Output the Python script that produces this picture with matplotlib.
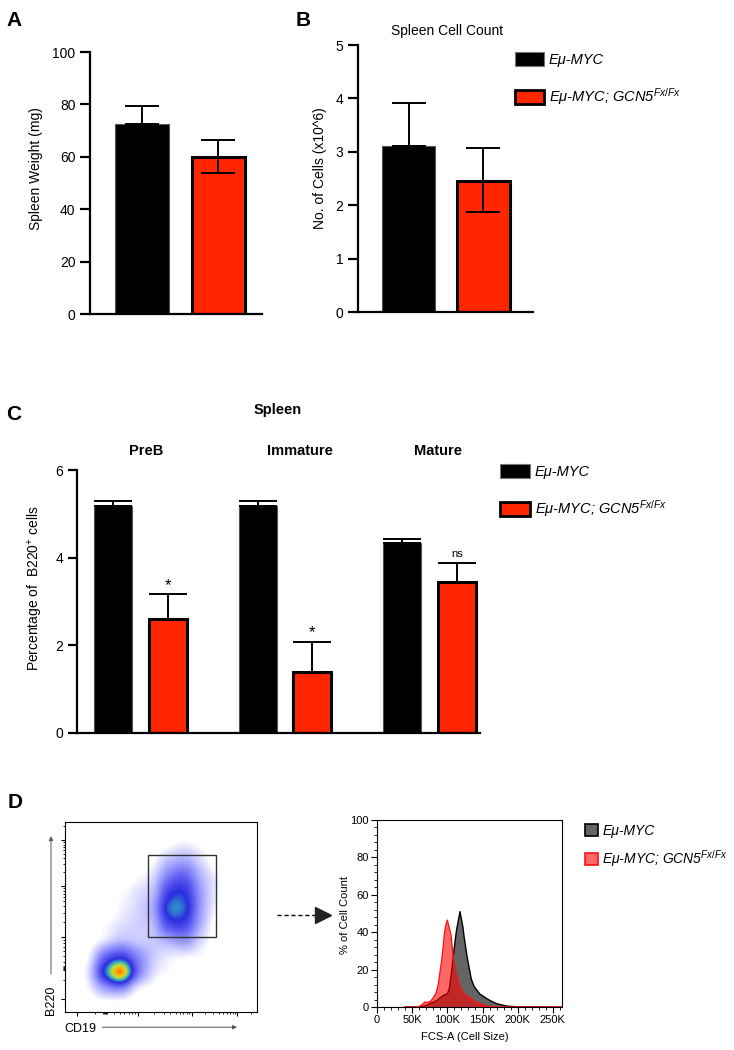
import numpy as np
import matplotlib
matplotlib.use('Agg')
import matplotlib.pyplot as plt
from matplotlib.patches import Patch, Rectangle
from matplotlib.colors import LinearSegmentedColormap
from matplotlib.lines import Line2D

plt.rcParams['font.family'] = ['Liberation Sans', 'DejaVu Sans']
plt.rcParams['mathtext.fontset'] = 'custom'
plt.rcParams['mathtext.rm'] = 'Liberation Sans'
plt.rcParams['mathtext.it'] = 'Liberation Sans:italic'

# ---- data ----
groups = ['Eμ-MYC', 'Eμ-MYC; GCN5$^{Fx/Fx}$']

# A: spleen weight (mg)
weight_mean = [72.5, 60.0]
weight_lo = [0.0, 6.0]
weight_hi = [7.0, 6.5]

# B: spleen cell count (x10^6)
count_mean = [3.1, 2.45]
count_lo = [0.0, 0.58]
count_hi = [0.82, 0.62]

# C: percentage of B220+ cells
subsets = ['PreB', 'Immature', 'Mature']
pct_myc = [5.17, 5.17, 4.33]
pct_myc_err = [0.13, 0.13, 0.09]
pct_gcn5 = [2.6, 1.4, 3.45]
pct_gcn5_err = [0.57, 0.68, 0.43]
sig_labels = ['*', '*', 'ns']

# D: FSC histograms (x in K, y in % of max)
fsc_x = [40, 55, 60, 65, 68, 72, 76, 80, 84, 87, 90, 92, 94, 96, 98, 100, 103,
         105, 107, 109, 111, 113, 114, 116, 118, 120, 122, 124, 126, 128, 130,
         134, 138, 142, 146, 150, 156, 163, 170, 184, 200, 262]
fsc_myc = [0, 0, 0, 0.3, 0.6, 1.2, 2, 2.5, 3.2, 4, 5, 5.5, 6, 6.5, 6.8, 7, 10,
           16, 22, 29, 35, 41, 43, 47, 51, 47, 43, 37, 32, 27, 23,
           15, 11, 9, 7, 6, 4.5, 3, 1.8, 0.5, 0.1, 0]
fsc_gcn5 = [0, 0, 0.3, 1.5, 2.7, 2.5, 3, 5, 7.5, 12, 20, 25, 32, 40, 44, 46.5, 42,
            39, 32, 25, 19.5, 17, 16, 13.5, 11, 9.5, 8, 7, 6.5, 6, 5.3,
            4.5, 3.5, 2.5, 1.8, 1.2, 0.5, 0.2, 0, 0, 0, 0]

# D: CD19 / B220 density (rows top -> bottom)
density = np.array([
    [0, 0, 0, 0, 0, 0, 0, 0, 0, 0, 0, 0],
    [0, 0, 0, 0, 0, 0, 0.2, 0.4, 0.2, 0, 0, 0],
    [0, 0, 0, 0, 0, 0.2, 1.0, 1.3, 0.6, 0, 0, 0],
    [0, 0, 0, 0, 0.2, 0.6, 2.0, 2.4, 1.1, 0.3, 0, 0],
    [0, 0, 0, 0.2, 0.5, 1.0, 3.0, 3.2, 1.4, 0.3, 0, 0],
    [0, 0, 0, 0.3, 0.6, 1.3, 3.6, 3.5, 1.4, 0.2, 0, 0],
    [0, 0, 0.2, 0.5, 0.7, 1.0, 2.7, 2.8, 1.1, 0, 0, 0],
    [0, 0, 0.5, 1.0, 0.8, 0.8, 1.2, 1.5, 0.6, 0, 0, 0],
    [0, 0.3, 2.2, 3.0, 1.8, 0.8, 0.4, 0.3, 0.2, 0, 0, 0],
    [0, 0.6, 3.5, 5.6, 2.2, 0.6, 0.2, 0.1, 0.2, 0, 0, 0],
    [0, 0.3, 1.4, 1.8, 0.5, 0.1, 0, 0, 0, 0, 0, 0],
    [0, 0, 0, 0, 0, 0, 0, 0, 0, 0, 0, 0],
])
gate = (0.43, 0.395, 0.355, 0.43)  # x, y, width, height in axes units

RED = '#ff2600'
W, H = 734, 1050


def box(l, t, r, b):
    return [l / W, 1 - b / H, (r - l) / W, (b - t) / H]


def prism_axes(ax, lw=1.6, tl=7):
    for s in ['top', 'right']:
        ax.spines[s].set_visible(False)
    for s in ['left', 'bottom']:
        ax.spines[s].set_linewidth(lw)
    ax.tick_params(axis='y', length=tl, width=lw, labelsize=10)
    ax.tick_params(axis='x', length=0, labelbottom=False)


fig = plt.figure(figsize=(7.34, 10.5), dpi=100)

# ---- A ----
axA = fig.add_axes(box(90, 52, 262, 314))
xA = np.arange(2)
axA.bar(xA, weight_mean, width=0.7, color=['black', RED],
        edgecolor=['#555555', 'black'], linewidth=[0.8, 2.2], zorder=2)
axA.errorbar(xA, weight_mean, yerr=[weight_lo, weight_hi], fmt='none',
             ecolor='black', elinewidth=1.4, capsize=12, capthick=1.4, zorder=3)
axA.set_xlim(-0.68, 1.57)
axA.set_ylim(0, 100)
axA.set_yticks([0, 20, 40, 60, 80, 100])
prism_axes(axA)
axA.set_ylabel('Spleen Weight (mg)', fontsize=10)
axA.yaxis.set_label_coords(-0.273, 0.557)

# ---- B ----
axB = fig.add_axes(box(358, 45, 533, 312))
axB.bar(xA, count_mean, width=0.71, color=['black', RED],
        edgecolor=['#555555', 'black'], linewidth=[0.8, 2.2], zorder=2)
axB.errorbar(xA, count_mean, yerr=[count_lo, count_hi], fmt='none',
             ecolor='black', elinewidth=1.4, capsize=12, capthick=1.4, zorder=3)
axB.set_xlim(-0.68, 1.67)
axB.set_ylim(0, 5)
axB.set_yticks([0, 1, 2, 3, 4, 5])
prism_axes(axB)
axB.set_ylabel('No. of Cells (x10^6)', fontsize=10)
axB.yaxis.set_label_coords(-0.177, 0.54)
fig.text(447 / W, 1 - 31 / H, 'Spleen Cell Count', ha='center', va='center', fontsize=10)

fig.legend(handles=[Patch(facecolor='black', edgecolor='#777777', linewidth=0.8),
                    Patch(facecolor=RED, edgecolor='black', linewidth=2)],
           labels=groups, loc='upper left', bbox_to_anchor=(515 / W, 1 - 52 / H),
           frameon=False, borderpad=0, borderaxespad=0, handlelength=2.0,
           handleheight=1.15, labelspacing=1.3, handletextpad=0.3,
           prop={'size': 10.5, 'style': 'italic'})

# ---- C ----
axC = fig.add_axes(box(77, 470, 480, 733))
xC = np.arange(len(subsets))
off = 0.1886
bw = 0.263
axC.bar(xC - off, pct_myc, width=bw, color='black', edgecolor='#555555',
        linewidth=0.8, zorder=2)
axC.bar(xC + off, pct_gcn5, width=bw, color=RED, edgecolor='black',
        linewidth=2.2, zorder=2)
axC.errorbar(xC - off, pct_myc, yerr=[[0] * 3, pct_myc_err], fmt='none',
             ecolor='black', elinewidth=1.4, capsize=14, capthick=1.4, zorder=3)
axC.errorbar(xC + off, pct_gcn5, yerr=[[0] * 3, pct_gcn5_err], fmt='none',
             ecolor='black', elinewidth=1.4, capsize=14, capthick=1.4, zorder=3)
for i, lab in enumerate(sig_labels):
    top = pct_gcn5[i] + pct_gcn5_err[i]
    if lab == '*':
        axC.text(xC[i] + off, top + 0.2, lab, ha='center', va='center', fontsize=12)
    else:
        axC.text(xC[i] + off, top + 0.2, lab, ha='center', va='center', fontsize=8)
for i, lab in enumerate(subsets):
    axC.text(xC[i] + [0.04, 0.105, 0.06][i], 6.43, lab, ha='center', va='center',
             fontsize=10.5, fontweight='bold', clip_on=False)
axC.set_xlim(-0.438, 2.35)
axC.set_ylim(0, 6)
axC.set_yticks([0, 2, 4, 6])
prism_axes(axC, tl=6.5)
axC.set_ylabel('Percentage of  B220$^{+}$ cells', fontsize=10)
axC.yaxis.set_label_coords(-0.079, 0.55)
fig.text(278 / W, 1 - 410 / H, 'Spleen', ha='center', va='center',
         fontsize=10.5, fontweight='bold')

fig.legend(handles=[Patch(facecolor='black', edgecolor='#777777', linewidth=0.8),
                    Patch(facecolor=RED, edgecolor='black', linewidth=2)],
           labels=groups, loc='upper left', bbox_to_anchor=(500 / W, 1 - 464 / H),
           frameon=False, borderpad=0, borderaxespad=0, handlelength=2.05,
           handleheight=1.15, labelspacing=1.3, handletextpad=0.35,
           prop={'size': 10.5, 'style': 'italic'})

# ---- D: dot plot ----
axS = fig.add_axes(box(65, 822, 257, 1012))
cmap = LinearSegmentedColormap.from_list(
    'flow', [(0, 'white'), (0.03, 'white'), (0.08, '#e0e0ff'), (0.2, '#a8a8ff'),
             (0.38, '#6464f4'), (0.55, '#2c2ce0'), (0.66, '#30a0c8'),
             (0.8, '#b8e040'), (0.9, '#ffb000'), (1.0, '#ff3000')])
axS.imshow(density, extent=(0, 1, 0, 1), cmap=cmap, vmin=0, vmax=6,
           interpolation='catrom', aspect='auto', zorder=1)
axS.add_patch(Rectangle((gate[0], gate[1]), gate[2], gate[3], fill=False,
                        edgecolor='#333333', linewidth=1.0, zorder=3))
axS.set_xlim(0, 1)
axS.set_ylim(0, 1)
for s in axS.spines.values():
    s.set_linewidth(0.8)
ymaj = [0.068, 0.395, 0.663, 0.905]
xmaj = [0.0625, 0.38, 0.66, 0.896]
logk = np.log10(np.arange(2, 10))
ymin = [a + (b - a) * k for a, b in zip(ymaj[1:-1], ymaj[2:]) for k in logk]
ymin += [0.905 + 0.242 * k for k in logk if 0.905 + 0.242 * k < 1]
ymin += [0.068 + 0.327 * k for k in logk] + [0.22, 0.225, 0.23, 0.235, 0.24]
xmin = [a + (b - a) * k for a, b in zip(xmaj[1:-1], xmaj[2:]) for k in logk]
xmin += [0.896 + 0.236 * k for k in logk if 0.896 + 0.236 * k < 1]
xmin += [0.0625 + 0.3175 * k for k in logk] + [0.2, 0.205, 0.21, 0.215, 0.22]
axS.set_yticks(ymaj)
axS.set_yticks(ymin, minor=True)
axS.set_xticks(xmaj)
axS.set_xticks(xmin, minor=True)
axS.tick_params(which='major', length=3, width=0.8, labelleft=False, labelbottom=False)
axS.tick_params(which='minor', length=1.6, width=0.6)
axS.annotate('', xy=(-0.073, 0.94), xytext=(-0.073, 0.185), xycoords='axes fraction',
             arrowprops=dict(arrowstyle='-|>', color='#555555', lw=0.7,
                             mutation_scale=6), annotation_clip=False)
axS.annotate('', xy=(0.91, -0.08), xytext=(0.18, -0.08), xycoords='axes fraction',
             arrowprops=dict(arrowstyle='-|>', color='#555555', lw=0.7,
                             mutation_scale=6), annotation_clip=False)
axS.text(-0.073, 0.063, 'B220', rotation=90, ha='center', va='center',
         fontsize=9, transform=axS.transAxes)
axS.text(0.078, -0.09, 'CD19', ha='center', va='center', fontsize=9,
         transform=axS.transAxes)

# dashed arrow between dot plot and histogram
fig.add_artist(Line2D([277 / W, 318 / W], [1 - 915 / H, 1 - 915 / H],
                      color='black', lw=1, linestyle=(0, (3, 2))))
fig.add_artist(Line2D([323 / W], [1 - 915 / H], marker='>', markersize=11,
                      color='#222222', linestyle='none'))

# ---- D: histogram ----
axH = fig.add_axes(box(377, 820, 562, 1007))
axH.fill_between(fsc_x, fsc_myc, color='#646464', edgecolor='none', zorder=2)
axH.plot(fsc_x, fsc_myc, color='black', lw=1.0, zorder=2.5)
axH.fill_between(fsc_x, fsc_gcn5, color='#ff0000', alpha=0.6, edgecolor='none',
                 zorder=3)
axH.plot(fsc_x, fsc_gcn5, color='#ff1010', lw=0.9, zorder=4)
axH.set_xlim(0, 263)
axH.set_ylim(0, 100)
axH.set_xticks([0, 50, 100, 150, 200, 250])
axH.set_xticklabels(['0', '50K', '100K', '150K', '200K', '250K'])
axH.set_xticks(np.arange(0, 261, 10), minor=True)
axH.set_yticks([0, 20, 40, 60, 80, 100])
axH.set_yticks(np.arange(0, 101, 4), minor=True)
axH.tick_params(which='major', length=4, width=0.8, labelsize=8, pad=2)
axH.tick_params(which='minor', length=2, width=0.6)
for s in axH.spines.values():
    s.set_linewidth(0.8)
axH.set_ylabel('% of Cell Count', fontsize=8)
axH.yaxis.set_label_coords(-0.146, 0.49)
axH.set_xlabel('FCS-A (Cell Size)', fontsize=8)
axH.xaxis.set_label_coords(0.476, -0.134)

fig.legend(handles=[Patch(facecolor='#646464', edgecolor='black', linewidth=1.2),
                    Patch(facecolor='#ff6666', edgecolor='#ff1010', linewidth=1.2)],
           labels=groups, loc='upper left', bbox_to_anchor=(585 / W, 1 - 824 / H),
           frameon=False, borderpad=0, borderaxespad=0, handlelength=0.95,
           handleheight=0.95, labelspacing=0.75, handletextpad=0.3,
           prop={'size': 10, 'style': 'italic'})

# panel letters
for lab, x, y in [('A', 14, 20), ('B', 303, 20), ('C', 14, 415), ('D', 15, 803)]:
    fig.text(x / W, 1 - y / H, lab, ha='center', va='center', fontsize=15,
             fontweight='bold')

fig.savefig('out.png', dpi=100)
